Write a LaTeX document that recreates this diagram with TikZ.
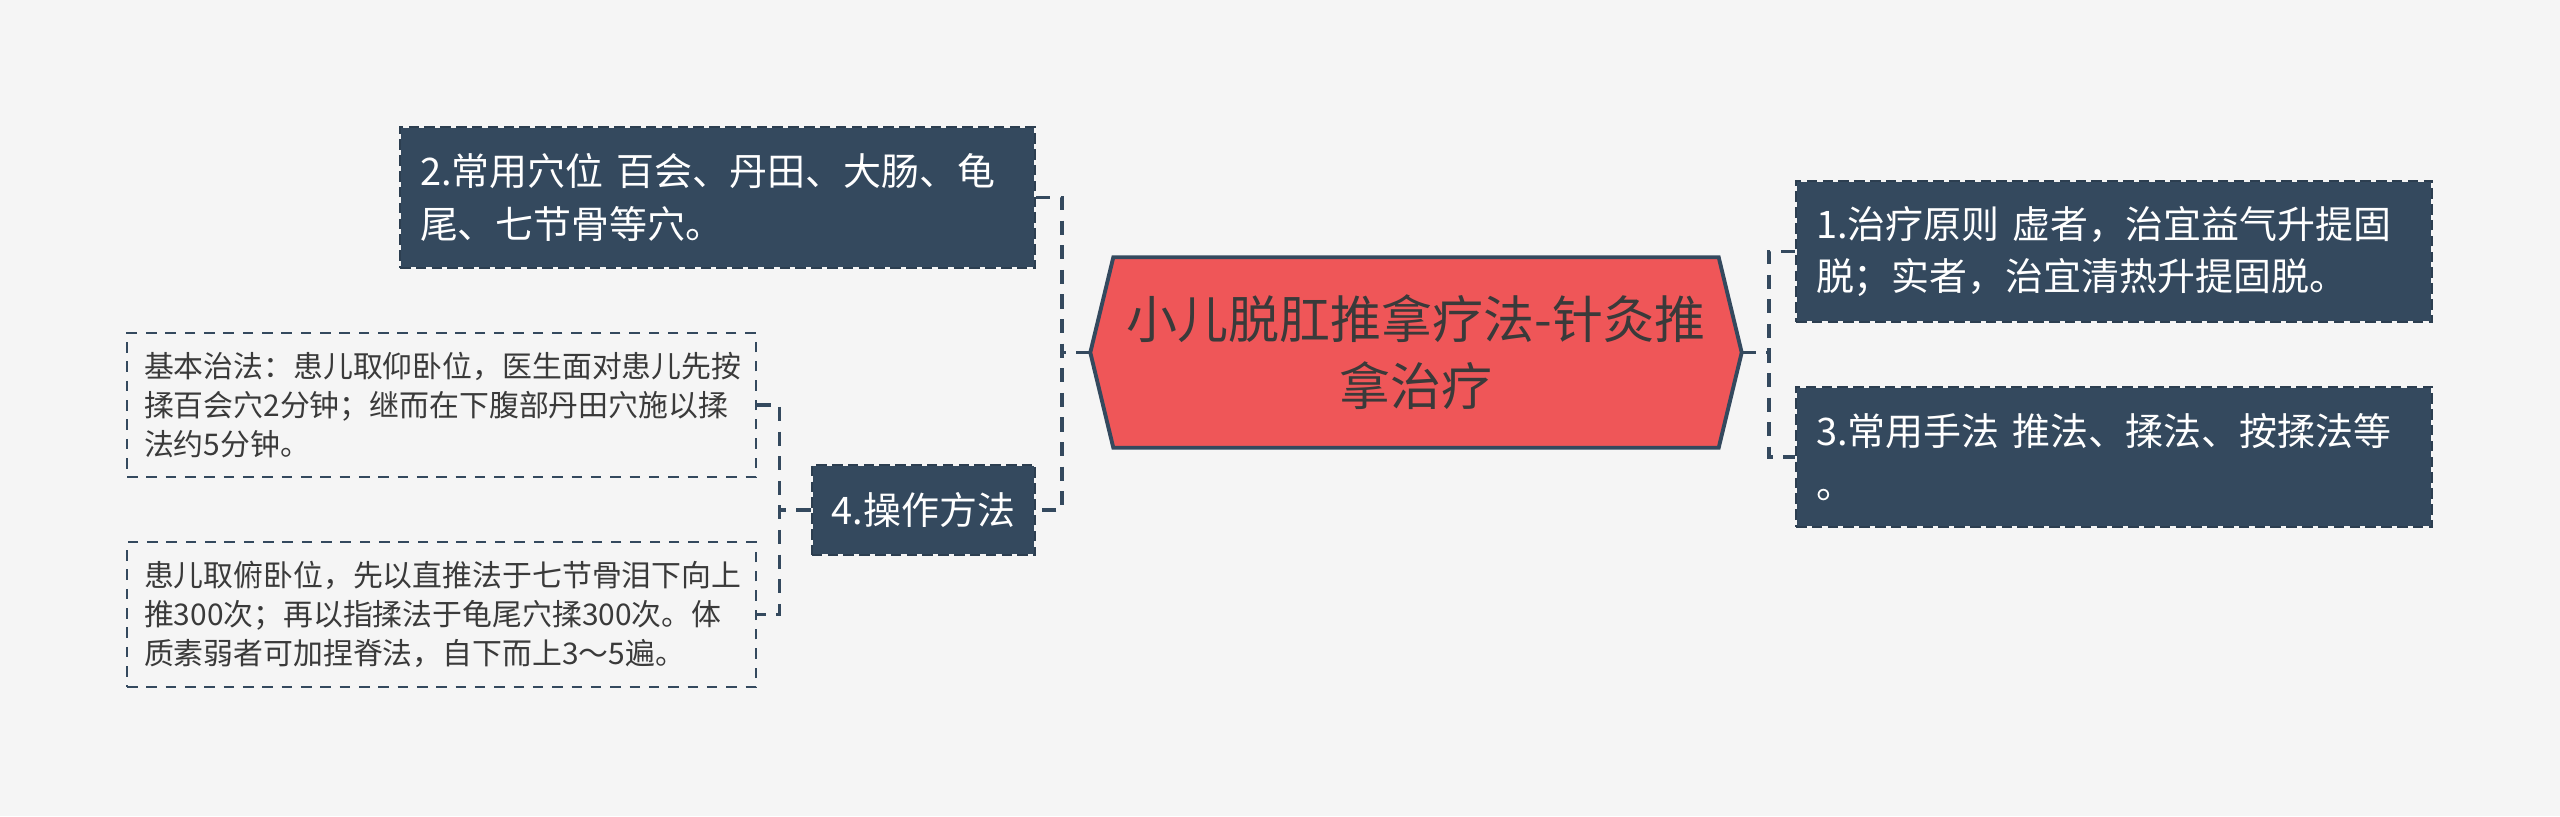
\documentclass[tikz,border=0pt]{standalone}
\usepackage{fontspec}
\newfontfamily\cjk{Noto Sans CJK SC}
\usetikzlibrary{backgrounds}

\definecolor{fond}{HTML}{F5F5F5}
\definecolor{ardoise}{HTML}{34495E}
\definecolor{corail}{HTML}{EF5658}
\definecolor{encre}{HTML}{3A3A3A}

\begin{document}
\begin{tikzpicture}[
    topic/.style={fill=ardoise, draw=fond, line width=0.7pt,
      postaction={draw=ardoise!85!black, line width=0.7pt,
        dash pattern=on 3pt off 1.5pt},
      text=white, font=\cjk\fontsize{10.8}{15}\selectfont,
      inner xsep=0.2cm, inner ysep=0pt},
    detail/.style={draw=ardoise, line width=0.5pt,
      dash pattern=on 3pt off 2.5pt, text=encre,
      font=\cjk\fontsize{8.5}{11.1}\selectfont, text width=5.95cm,
      align=left, inner xsep=0.17cm, inner ysep=0pt, minimum height=1.44cm},
    rootbox/.style={minimum width=6.04cm, minimum height=1.89cm,
      inner sep=0pt, align=center, text=encre,
      font=\cjk\fontsize{14.5}{19}\selectfont},
    link/.style={draw=ardoise, line width=1.1pt,
      dash pattern=on 4pt off 3pt}
  ]
    % Fond
    \begin{scope}[on background layer]
      \fill[fond] (0, 0) rectangle (25.6, -8.16);
    \end{scope}
    \useasboundingbox (0, 0) rectangle (25.6, -8.16);

    % Noeud central
    \node[rootbox] (root) at (14.16, -3.525)
    {小儿脱肛推拿疗法-针灸推\\拿治疗};
    \coordinate (root-l) at ([xshift=-0.23cm]root.west);
    \coordinate (root-r) at ([xshift=0.23cm]root.east);
    \begin{scope}[on background layer]
      \draw[fill=corail, draw=ardoise, line width=1.1pt] (root-l) --
      (root.north west) -- (root.north east) -- (root-r) --
      (root.south east) -- (root.south west) -- cycle;
    \end{scope}

    % Branches droites
    \node[topic, text width=5.96cm, align=left, minimum height=1.41cm]
    (n1) at (21.14, -2.515) {1.治疗原则 虚者，治宜益气升提固\\脱；实者，治宜清热升提固脱。};
    \node[topic, text width=5.96cm, align=left, minimum height=1.40cm]
    (n3) at (21.14, -4.57) {3.常用手法 推法、揉法、按揉法等\\。};

    % Branches gauches
    \node[topic, text width=5.95cm, align=left, minimum height=1.41cm]
    (n2) at (7.175, -1.975) {2.常用穴位 百会、丹田、大肠、龟\\尾、七节骨等穴。};
    \node[topic, minimum width=2.23cm, minimum height=0.90cm]
    (n4) at (9.235, -5.10) {4.操作方法};

    % Details
    \node[detail] (nA) at (4.415, -4.05)
    {基本治法：患儿取仰卧位，医生面对患儿先按\\揉百会穴2分钟；继而在下腹部丹田穴施以揉\\法约5分钟。};
    \node[detail, minimum height=1.45cm] (nB) at (4.415, -6.145)
    {患儿取俯卧位，先以直推法于七节骨泪下向上\\推300次；再以指揉法于龟尾穴揉300次。体\\质素弱者可加捏脊法，自下而上3～5遍。};

    % Liens
    \draw[link] (root-l) -- ++(-0.28, 0) coordinate (jl);
    \draw[link] (n2.east) -| (jl) |- (n4.east);
    \draw[link] (root-r) -- ++(0.27, 0) coordinate (jr);
    \draw[link] (n1.west) -| (jr) |- (n3.west);
    \draw[link] (n4.west) -- ++(-0.31, 0) coordinate (jb);
    \draw[link] (nA.east) -| (jb) |- (nB.east);
  \end{tikzpicture}
\end{document}
